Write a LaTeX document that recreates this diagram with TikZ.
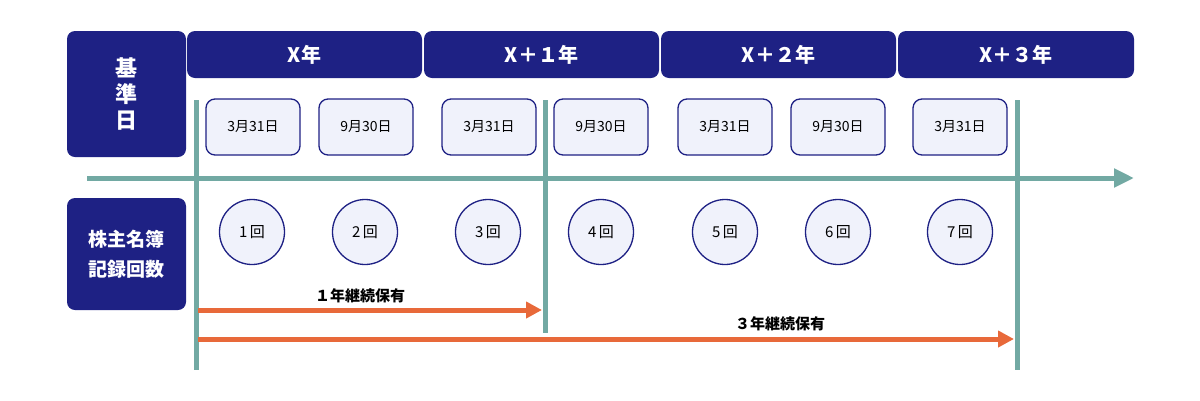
\documentclass[tikz,border=0pt]{standalone}
\usepackage{fontspec}
\setmainfont{Noto Sans CJK JP}
\usetikzlibrary{arrows.meta}
\definecolor{navy}{HTML}{1E2184}
\definecolor{teal2}{HTML}{72A9A3}
\definecolor{orng}{HTML}{E8693A}
\definecolor{pale}{HTML}{F0F2FB}
\begin{document}
\begin{tikzpicture}[x=1pt,y=-1pt,
  hdr/.style={fill=navy,rounded corners=8pt,text=white,font=\bfseries\fontsize{20}{24}\selectfont},
  datebox/.style={draw=navy,line width=1.3pt,fill=pale,rounded corners=9pt,minimum width=94pt,minimum height=56pt,font=\fontsize{14}{16}\selectfont,inner sep=0},
  cnt/.style={circle,draw=navy,line width=1.3pt,fill=pale,minimum size=65pt,font=\fontsize{15}{17}\selectfont,inner sep=0},
  vline/.style={teal2,line width=5pt},
  oarrow/.style={orng,line width=5pt,-{Triangle[length=16pt,width=16pt]}},
  lbl/.style={font=\bfseries\fontsize{15}{17}\selectfont}]
\useasboundingbox (0,0) rectangle (1200,400);
\node[hdr,minimum width=119pt,minimum height=126pt,align=center,font=\bfseries\fontsize{22}{26}\selectfont] (kijun) at (126.5,94) {基\\準\\日};
\node[hdr,minimum width=119pt,minimum height=112pt,align=center,font=\bfseries\fontsize{19}{30}\selectfont] (kaisu) at (126.5,254) {株主名簿\\記録回数};
\node[hdr,minimum width=235pt,minimum height=47pt] (y0) at (304.5,54.5) {X年};
\node[hdr,minimum width=235pt,minimum height=47pt] (y1) at (541.5,54.5) {X＋１年};
\node[hdr,minimum width=235pt,minimum height=47pt] (y2) at (778.5,54.5) {X＋２年};
\node[hdr,minimum width=236pt,minimum height=47pt] (y3) at (1016,54.5) {X＋３年};
\coordinate (hs) at (87,178); \coordinate (he) at (1134,178);
\draw[teal2,line width=5pt,-{Triangle[length=20pt,width=18pt]}] (hs) -- (he);
\coordinate (a1) at (196,100); \coordinate (a2) at (196,370);
\coordinate (b1) at (545,100); \coordinate (b2) at (545,333);
\coordinate (c1) at (1017,100); \coordinate (c2) at (1017,370);
\draw[vline] (a1) -- (a2); \draw[vline] (b1) -- (b2); \draw[vline] (c1) -- (c2);
\foreach \x/\t [count=\i] in {253/3月31日,366/9月30日,489/3月31日,601/9月30日,725/3月31日,838/9月30日,960/3月31日}{
  \node[datebox] (d\i) at (\x,127) {\t};}
\foreach \x [count=\i] in {252,365,488,601,725,838,960}{
  \node[cnt] (c\i) at (\x,232) {\i\,回};}
\coordinate (o1s) at (198,310); \coordinate (o1e) at (542,310);
\coordinate (o2s) at (198,339); \coordinate (o2e) at (1014,339);
\draw[oarrow] (o1s) -- (o1e);
\draw[oarrow] (o2s) -- (o2e);
\node[lbl] (l1) at (360,296) {１年継続保有};
\node[lbl] (l2) at (780,324) {３年継続保有};
\end{tikzpicture}
\end{document}
